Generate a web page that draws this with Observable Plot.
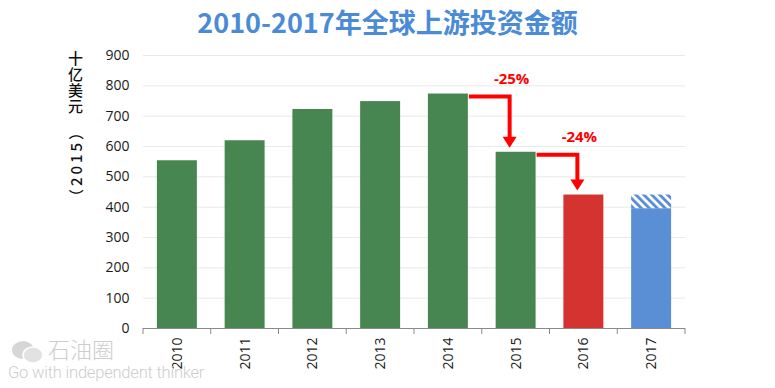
<!DOCTYPE html>
<html>
<head>
<meta charset="utf-8">
<script src="https://cdn.jsdelivr.net/npm/d3@7"></script>
<script src="https://cdn.jsdelivr.net/npm/@observablehq/plot@0.6"></script>
<style>
  body { margin: 0; background: #fff; width: 775px; height: 388px; overflow: hidden; position: relative; }
  #title { height: 44px; line-height: 44px; text-align: center; font-family: "Noto Sans CJK SC", sans-serif; font-weight: 700; font-size: 27px; color: #4b8bd6; }
  #ylab { position: absolute; left: 66px; top: 51px; width: 18px; writing-mode: vertical-rl; text-orientation: upright; font-family: "Noto Sans CJK SC", sans-serif; font-weight: 500; font-size: 15px; line-height: 18px; letter-spacing: 0.8px; color: #111; white-space: nowrap; }
  #wm { position: absolute; left: 8px; top: 334px; color: #cdcdcd; pointer-events: none; }
  #wm .cn { position: absolute; left: 40px; top: 1px; font-family: "Noto Sans CJK SC", sans-serif; font-weight: 300; font-size: 22px; line-height: 27px; white-space: nowrap; }
  #wm .en { position: absolute; left: 0px; top: 29px; font-family: Roboto, sans-serif; font-weight: 300; font-size: 16.5px; line-height: 20px; white-space: nowrap; letter-spacing: -0.2px; }
  #wm svg { position: absolute; left: 2px; top: 5px; }
</style>
</head>
<body>
<svg width="0" height="0" style="position:absolute">
  <defs>
    <pattern id="hatch" patternUnits="userSpaceOnUse" width="5.6" height="10" patternTransform="rotate(-45)">
      <rect width="5.6" height="10" fill="#ffffff"></rect>
      <rect width="2.9" height="10" fill="#5a8fd5"></rect>
    </pattern>
  </defs>
</svg>
<div id="title">2010-2017年全球上游投资金额</div>
<div id="chart"></div>
<div id="ylab"></div>
<div id="wm">
  <svg width="36" height="26" viewBox="0 0 36 26">
    <ellipse cx="13" cy="11" rx="11" ry="9" fill="#d6d6d6"></ellipse>
    <ellipse cx="23" cy="16" rx="10" ry="8" fill="#e2e2e2" stroke="#fff" stroke-width="1.5"></ellipse>
  </svg>
  <div class="cn">石油圈</div>
  <div class="en">Go with independent thinker</div>
</div>
<script>
// ---- data ----
const years = ["2010", "2011", "2012", "2013", "2014", "2015", "2016", "2017"];
const investment = [553, 619, 722, 748, 773, 581, 440, 395];
const estimateUpper2017 = 440;
const yTicks = [0, 100, 200, 300, 400, 500, 600, 700, 800, 900];
const changeFrom = ["2014", "2015"];
const changeTo = ["2015", "2016"];
const changeLabels = ["-25%", "-24%"];
const yLabelUpright = "十亿美元";
const yLabelRotated = "（2015）";

// ---- derived tables ----
const rows = years.map((year, i) => ({year, value: investment[i]}));
const valueOf = Object.fromEntries(rows.map(d => [d.year, d.value]));
const hatchRow = [{year: "2017", low: valueOf["2017"], high: estimateUpper2017}];
const changes = changeFrom.map((f, i) => ({from: f, to: changeTo[i], label: changeLabels[i]}));

const GREEN = "#478651", RED = "#d5332f", BLUE = "#5a8fd5", ARROW = "#ff0000";
const barFill = d => d.year === "2016" ? RED : d.year === "2017" ? BLUE : GREEN;
const tickFont = "'Open Sans', 'Liberation Sans', sans-serif";
const cjkFont = "'Noto Sans CJK SC', sans-serif";

document.getElementById("ylab").textContent = yLabelUpright;

function bandInfo(sx) {
  const bw = typeof sx.bandwidth === "function" ? sx.bandwidth() : sx.bandwidth;
  const step = typeof sx.step === "function" ? sx.step() : sx.step;
  return {bw, step};
}

// category boundary tick marks below the axis
function boundaryTicks(index, scales) {
  const sx = scales.x, sy = scales.y;
  const {bw, step} = bandInfo(sx);
  const g = d3.create("svg:g").attr("stroke", "#8a8a8a").attr("stroke-width", 1);
  const y0 = sy(0);
  const xs = years.map(y => sx(y) + bw / 2 - step / 2);
  xs.push(sx(years[years.length - 1]) + bw / 2 + step / 2);
  for (const x of xs) {
    g.append("line").attr("x1", x).attr("x2", x).attr("y1", y0).attr("y2", y0 + 6);
  }
  return g.node();
}

// elbow arrows showing the year-over-year decline
function elbowArrows(index, scales) {
  const sx = scales.x, sy = scales.y;
  const {bw} = bandInfo(sx);
  const g = d3.create("svg:g");
  for (const c of changes) {
    const xStart = sx(c.from) + bw + 1;
    const xDown = sx(c.to) + bw / 2 - 6;
    const yH = sy(valueOf[c.from]) + 3;
    const yTip = sy(valueOf[c.to]) - 4;
    const headH = 11, headW = 7;
    g.append("path")
      .attr("d", `M${xStart},${yH}H${xDown}V${yTip - headH + 1}`)
      .attr("fill", "none").attr("stroke", ARROW).attr("stroke-width", 4);
    g.append("path")
      .attr("d", `M${xDown - headW},${yTip - headH}L${xDown + headW},${yTip - headH}L${xDown},${yTip}Z`)
      .attr("fill", ARROW);
    g.append("text")
      .attr("x", xDown + 2).attr("y", sy(valueOf[c.from]) - 14)
      .attr("text-anchor", "middle").attr("dominant-baseline", "middle")
      .attr("fill", ARROW).attr("font-weight", "bold").attr("font-size", 15)
      .attr("font-family", tickFont)
      .text(c.label);
  }
  return g.node();
}

// rotated year note of the y-axis title
function yTitleNote(index, scales, values, dimensions) {
  const x = dimensions.marginLeft - 68;
  const g = d3.create("svg:g").attr("fill", "#111").attr("font-family", cjkFont)
    .attr("font-size", 15).attr("font-weight", 500);
  g.append("text")
    .attr("transform", `translate(${x},${dimensions.marginTop + 108}) rotate(-90)`)
    .attr("text-anchor", "middle").attr("dominant-baseline", "central")
    .style("letter-spacing", "3px")
    .text(yLabelRotated);
  return g.node();
}

const chart = Plot.plot({
  width: 775,
  height: 344,
  marginTop: 11,
  marginBottom: 60,
  marginLeft: 143,
  marginRight: 90,
  style: {fontFamily: tickFont, fontSize: "13px", color: "#1a1a1a", background: "transparent"},
  x: {domain: years, paddingInner: 0.41, paddingOuter: 0.205, round: false, label: null},
  y: {domain: [0, 900], label: null},
  marks: [
    Plot.ruleY(yTicks.filter(t => t > 0), {stroke: "#e9e9e9", strokeWidth: 1}),
    Plot.axisY(yTicks, {tickSize: 0, tickPadding: 14, label: null, fontSize: 14}),
    Plot.axisX(years, {tickSize: 0, tickPadding: 9, tickRotate: -90, label: null, fontSize: 14}),
    Plot.barY(rows, {x: "year", y: "value", fill: barFill}),
    Plot.barY(hatchRow, {x: "year", y1: "low", y2: "high", fill: "url(#hatch)"}),
    Plot.ruleY([0], {stroke: "#8a8a8a", strokeWidth: 1}),
    boundaryTicks,
    elbowArrows,
    yTitleNote
  ]
});
document.getElementById("chart").appendChild(chart);
</script>
</body>
</html>
